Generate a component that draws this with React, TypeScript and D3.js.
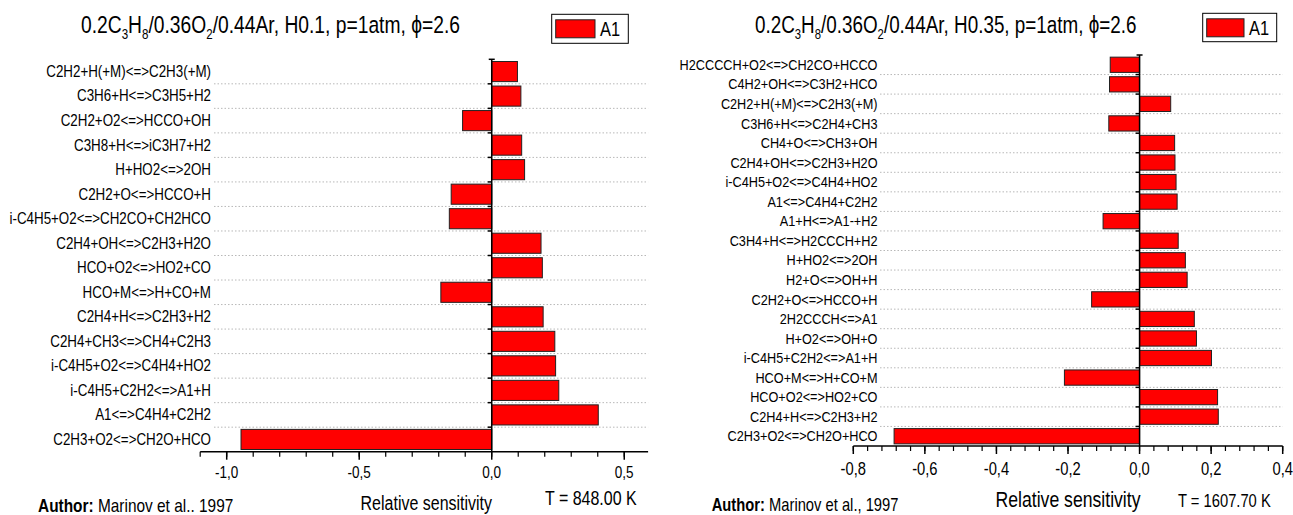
import React from 'react';
import * as d3 from 'd3';

// H0.1 case (T = 848 K)
const LEFT_REACTIONS = [
  'C2H2+H(+M)<=>C2H3(+M)',
  'C3H6+H<=>C3H5+H2',
  'C2H2+O2<=>HCCO+OH',
  'C3H8+H<=>iC3H7+H2',
  'H+HO2<=>2OH',
  'C2H2+O<=>HCCO+H',
  'i-C4H5+O2<=>CH2CO+CH2HCO',
  'C2H4+OH<=>C2H3+H2O',
  'HCO+O2<=>HO2+CO',
  'HCO+M<=>H+CO+M',
  'C2H4+H<=>C2H3+H2',
  'C2H4+CH3<=>CH4+C2H3',
  'i-C4H5+O2<=>C4H4+HO2',
  'i-C4H5+C2H2<=>A1+H',
  'A1<=>C4H4+C2H2',
  'C2H3+O2<=>CH2O+HCO',
];
const LEFT_SENS = [
  0.097, 0.110, -0.110, 0.113, 0.124, -0.153, -0.160, 0.186,
  0.191, -0.192, 0.194, 0.238, 0.241, 0.253, 0.402, -0.946,
];
const LEFT_TICKS = [-1.0, -0.5, 0.0, 0.5];

// H0.35 case (T = 1607.70 K)
const RIGHT_REACTIONS = [
  'H2CCCCH+O2<=>CH2CO+HCCO',
  'C4H2+OH<=>C3H2+HCO',
  'C2H2+H(+M)<=>C2H3(+M)',
  'C3H6+H<=>C2H4+CH3',
  'CH4+O<=>CH3+OH',
  'C2H4+OH<=>C2H3+H2O',
  'i-C4H5+O2<=>C4H4+HO2',
  'A1<=>C4H4+C2H2',
  'A1+H<=>A1-+H2',
  'C3H4+H<=>H2CCCH+H2',
  'H+HO2<=>2OH',
  'H2+O<=>OH+H',
  'C2H2+O<=>HCCO+H',
  '2H2CCCH<=>A1',
  'H+O2<=>OH+O',
  'i-C4H5+C2H2<=>A1+H',
  'HCO+M<=>H+CO+M',
  'HCO+O2<=>HO2+CO',
  'C2H4+H<=>C2H3+H2',
  'C2H3+O2<=>CH2O+HCO',
];
const RIGHT_SENS = [
  -0.082, -0.084, 0.087, -0.086, 0.098, 0.099, 0.102, 0.105, -0.102, 0.108,
  0.128, 0.133, -0.134, 0.153, 0.159, 0.201, -0.210, 0.218, 0.220, -0.686,
];
const RIGHT_TICKS = [-0.8, -0.6, -0.4, -0.2, 0.0, 0.2, 0.4];

const FONT = '"Liberation Sans", Arial, sans-serif';
// the original uses a narrow face; squeeze a regular one horizontally
const SQUEEZE = 0.82;

const commaLocale = d3.formatLocale({
  decimal: ',',
  thousands: '.',
  grouping: [3],
  currency: ['', ''],
  minus: '-',
});
const fmt = commaLocale.format('.1f');

interface NTextProps {
  x: number;
  y: number;
  size: number;
  anchor?: 'start' | 'middle' | 'end';
  dy?: string;
  children: React.ReactNode;
}

const NText: React.FC<NTextProps> = ({ x, y, size, anchor = 'start', dy, children }) => (
  <text transform={`translate(${x},${y}) scale(${SQUEEZE},1)`} textAnchor={anchor}
    fontSize={size} dy={dy} fill="#000">{children}</text>
);

interface PanelProps {
  reactions: string[];
  values: number[];
  majorTicks: number[];
  minorStep: number;
  hLabel: string;
  temperature: string;
  author: string;
  cfg: any;
}

const Panel: React.FC<PanelProps> = ({ reactions, values, majorTicks, minorStep, hLabel, temperature, author, cfg }) => {
  const x = d3.scaleLinear().domain(cfg.xDomain).range(cfg.xRange);
  const y = d3.scaleBand<string>().domain(reactions).range(cfg.yRange).padding(0);
  const bw = y.bandwidth();
  const barH = bw * cfg.barRatio;
  const x0 = x(0);
  const axisY = cfg.yRange[1];

  const [d0, d1] = cfg.xDomain;
  const minor = d3.range(Math.ceil(d0 / minorStep - 1e-6), Math.floor(d1 / minorStep + 1e-6) + 1).map(i => i * minorStep);
  const sub = cfg.titleSize * 0.6;

  return (
    <g fontFamily={FONT}>
      {/* title */}
      <NText x={cfg.titleX} y={33} size={cfg.titleSize}>
        <tspan>0.2C</tspan>
        <tspan fontSize={sub} dy={6}>3</tspan>
        <tspan dy={-6}>H</tspan>
        <tspan fontSize={sub} dy={6}>8</tspan>
        <tspan dy={-6}>/0.36O</tspan>
        <tspan fontSize={sub} dy={6}>2</tspan>
        <tspan dy={-6}>{`/0.44Ar, ${hLabel}, p=1atm, \u03D5=2.6`}</tspan>
      </NText>

      {/* legend */}
      <rect x={cfg.legend.x} y={cfg.legend.y} width={cfg.legend.w} height={cfg.legend.h} fill="#fff" stroke="#000" strokeWidth={1} />
      <rect x={cfg.legend.x + 4} y={cfg.legend.y + 5.5} width={cfg.legend.sw} height={18} fill="#ff0000" stroke="#222" strokeWidth={1} />
      <NText x={cfg.legend.x + cfg.legend.sw + 9} y={cfg.legend.y + 22} size={20}>A1</NText>

      {/* dotted grid at category boundaries */}
      {reactions.slice(1).map(r => (
        <line key={`g-${r}`} x1={cfg.gridX0} x2={cfg.xRange[1]} y1={y(r)} y2={y(r)}
          stroke="#b8b8b8" strokeWidth={1} strokeDasharray="1.5,2" />
      ))}

      {/* bars */}
      {reactions.map((r, i) => (
        <rect key={`b-${r}`}
          x={Math.min(x0, x(values[i]))}
          y={(y(r) as number) + (bw - barH) / 2}
          width={Math.abs(x(values[i]) - x0)}
          height={barH}
          fill="#ff0000" stroke="#222" strokeWidth={1} />
      ))}

      {/* reaction labels */}
      {reactions.map(r => (
        <NText key={`l-${r}`} x={cfg.labelX} y={(y(r) as number) + bw / 2} dy="0.33em"
          anchor="end" size={cfg.labelSize}>{r}</NText>
      ))}

      {/* zero line with category ticks */}
      <line x1={x0} x2={x0} y1={cfg.yRange[0]} y2={axisY} stroke="#000" strokeWidth={1.5} />
      <line x1={x0 - 3} x2={x0 + 3} y1={cfg.yRange[0]} y2={cfg.yRange[0]} stroke="#000" strokeWidth={1.5} />
      {reactions.slice(1).map(r => (
        <line key={`t-${r}`} x1={x0 - 4} x2={x0} y1={y(r)} y2={y(r)} stroke="#000" strokeWidth={1.5} />
      ))}

      {/* x axis */}
      <line x1={cfg.xRange[0]} x2={cfg.xRange[1]} y1={axisY} y2={axisY} stroke="#000" strokeWidth={1.5} />
      {minor.map(v => (
        <line key={`mi-${v}`} x1={x(v)} x2={x(v)} y1={axisY} y2={axisY + 5} stroke="#000" strokeWidth={1.2} />
      ))}
      {majorTicks.map(v => (
        <g key={`ma-${v}`}>
          <line x1={x(v)} x2={x(v)} y1={axisY} y2={axisY + 8} stroke="#000" strokeWidth={1.5} />
          <NText x={x(v)} y={cfg.tickLabelY} anchor="middle" size={cfg.tickLabelSize}>{fmt(v)}</NText>
        </g>
      ))}

      {/* annotations */}
      <NText x={cfg.rsX} y={cfg.rsY} anchor="middle" size={cfg.rsSize}>Relative sensitivity</NText>
      <NText x={cfg.tX} y={cfg.tY} size={cfg.tSize}>{temperature}</NText>
      <NText x={cfg.authorX} y={cfg.authorY} size={cfg.authorSize}>
        <tspan fontWeight="bold">Author:</tspan>
        <tspan>{` ${author}`}</tspan>
      </NText>
    </g>
  );
};

const leftCfg = {
  xDomain: [-1.1, 0.59], xRange: [200.2, 648.1], yRange: [59.3, 451.7], barRatio: 0.82,
  labelX: 211, labelSize: 16.3, gridX0: 214, tickLabelY: 478.3, tickLabelSize: 16.5,
  titleX: 81, titleSize: 23.5,
  legend: { x: 551.7, y: 14.3, w: 76.6, h: 29, sw: 39.3 },
  rsX: 426.3, rsY: 510, rsSize: 19.5, tX: 545, tY: 505, tSize: 19.5,
  authorX: 38, authorY: 512, authorSize: 18.8,
};

const rightCfg = {
  xDomain: [-0.8, 0.4], xRange: [853.3, 1282.7], yRange: [55, 446], barRatio: 0.78,
  labelX: 877.5, labelSize: 15.5, gridX0: 880, tickLabelY: 475, tickLabelSize: 18,
  titleX: 755, titleSize: 23,
  legend: { x: 1202.7, y: 13.3, w: 74, h: 28.4, sw: 37.3 },
  rsX: 1068, rsY: 506.7, rsSize: 21.5, tX: 1178, tY: 506.7, tSize: 18,
  authorX: 711.7, authorY: 511, authorSize: 18,
};

const App: React.FC = () => (
  <div style={{ position: 'absolute', left: 0, top: 0 }}>
    <svg width={1293} height={515} style={{ display: 'block', background: '#fff' }}>
      <Panel reactions={LEFT_REACTIONS} values={LEFT_SENS} majorTicks={LEFT_TICKS} minorStep={0.1}
        hLabel="H0.1" temperature="T = 848.00 K" author="Marinov et al.. 1997" cfg={leftCfg} />
      <Panel reactions={RIGHT_REACTIONS} values={RIGHT_SENS} majorTicks={RIGHT_TICKS} minorStep={0.04}
        hLabel="H0.35" temperature="T = 1607.70 K" author="Marinov et al., 1997" cfg={rightCfg} />
    </svg>
  </div>
);

export default App;
